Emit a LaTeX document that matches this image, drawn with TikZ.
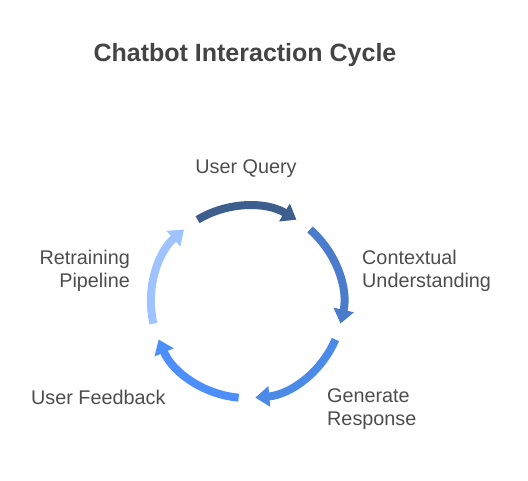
\documentclass[tikz,border=0pt]{standalone}
\usepackage{fontspec}
\setmainfont{Liberation Sans}
\usetikzlibrary{arrows.meta,calc}
\definecolor{cA}{HTML}{3E5E8E}
\definecolor{cB}{HTML}{4A7CCB}
\definecolor{cC}{HTML}{4C8AE8}
\definecolor{cD}{HTML}{4D8FFA}
\definecolor{cE}{HTML}{9EC3FF}
\definecolor{txt}{HTML}{4D4D4D}
\definecolor{ttl}{HTML}{444444}
\tikzset{
  cyc/.style={line width=8pt, -{Triangle[width=20pt,length=14pt]}},
  lbl/.style={inner sep=0pt, text=txt, font=\fontsize{19.8}{23.5}\selectfont},
  ttlstyle/.style={inner sep=0pt, text=ttl, font=\fontsize{25}{29}\selectfont\bfseries}
}
\begin{document}
\begin{tikzpicture}[x=1pt,y=1pt]
\useasboundingbox (0,0) rectangle (528,480);
\coordinate (c) at (247,178);
\def\R{96}
\foreach \k in {0,...,4}{
  \coordinate (s\k) at ($(c)+({121-72*\k}:\R)$);
}
\draw[cyc,cA] (s0) arc[start angle=121, end angle=59, radius=\R];
\draw[cyc,cB] (s1) arc[start angle=49, end angle=-13, radius=\R];
\draw[cyc,cC] (s2) arc[start angle=-23, end angle=-85, radius=\R];
\draw[cyc,cD] (s3) arc[start angle=-95, end angle=-157, radius=\R];
\draw[cyc,cE] (s4) arc[start angle=-167, end angle=-229, radius=\R];
\node[ttlstyle] (title) at (245,425) {Chatbot Interaction Cycle};
\node[lbl] (uq) at (246,311) {User Query};
\node[lbl, anchor=west, align=left] (cu) at (362,209) {Contextual\\Understanding};
\node[lbl, anchor=west, align=left] (gr) at (327,71) {Generate\\Response};
\node[lbl, anchor=west] (uf) at (31,83) {User Feedback};
\node[lbl, anchor=east, align=right] (rp) at (130,209) {Retraining\\Pipeline};
\end{tikzpicture}
\end{document}
